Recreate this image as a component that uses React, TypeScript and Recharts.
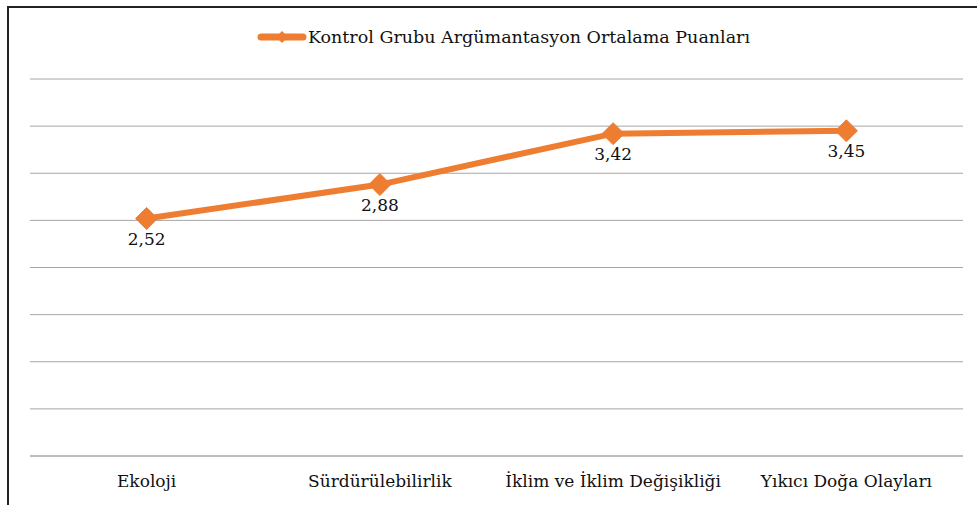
import React from "react";
import { LineChart, Line, CartesianGrid, XAxis, YAxis, Legend, LabelList } from "recharts";

const categories = ["Ekoloji", "Sürdürülebilirlik", "İklim ve İklim Değişikliği", "Yıkıcı Doğa Olayları"];
const scores = [2.52, 2.88, 3.42, 3.45];
const yTicks = [0, 0.5, 1, 1.5, 2, 2.5, 3, 3.5, 4];
const seriesName = "Kontrol Grubu Argümantasyon Ortalama Puanları";

const ORANGE = "#EE7D31";
const FONT = "DejaVu Serif";
const FS = 17;

const data = categories.map((c, i) => ({ name: c, value: scores[i] }));

const Diamond = (props: any) => {
  const { cx, cy, index } = props;
  if (cx == null || cy == null) return null;
  const r = 11;
  return (
    <polygon
      key={`d-${index}`}
      points={`${cx},${cy - r} ${cx + r},${cy} ${cx},${cy + r} ${cx - r},${cy}`}
      fill={ORANGE}
      stroke={ORANGE}
      strokeWidth={1}
    />
  );
};

const LegendContent = () => (
  <div style={{ display: "flex", alignItems: "center", justifyContent: "center", fontFamily: FONT, fontSize: 17.5, color: "#111", lineHeight: "22px", paddingLeft: 30 }}>
    <svg width={50} height={14} style={{ marginRight: 1 }}>
      <line x1={4} y1={7} x2={46} y2={7} stroke={ORANGE} strokeWidth={7} strokeLinecap="round" />
      <polygon points="25,1 31,7 25,13 19,7" fill={ORANGE} />
    </svg>
    <span>{seriesName}</span>
  </div>
);

export default function App() {
  return (
    <div style={{ position: "absolute", left: 0, top: 0, width: 977, height: 505, overflow: "hidden", background: "#fff" }}>
      <div
        style={{
          position: "absolute",
          left: 7,
          top: 6,
          width: 1100,
          height: 700,
          border: "2px solid #222",
          boxSizing: "border-box",
        }}
      />
      <div style={{ position: "absolute", left: 0, top: 0 }}>
        <LineChart width={977} height={505} data={data} margin={{ top: 79, right: 14, left: 30, bottom: 19 }}>
          <CartesianGrid horizontal vertical={false} stroke="#a6a6a6" strokeWidth={1} />
          <YAxis hide domain={[0, 4]} ticks={yTicks} width={0} />
          <XAxis
            dataKey="name"
            scale="band"
            height={30}
            axisLine={{ stroke: "#a6a6a6" }}
            tickLine={false}
            tickMargin={13}
            tick={{ fill: "#111", fontSize: FS, fontFamily: FONT }}
            interval={0}
          />
          <Legend
            verticalAlign="middle"
            align="center"
            layout="horizontal"
            content={<LegendContent />}
            wrapperStyle={{ top: 26, left: 0, width: 977 }}
          />
          <Line
            type="linear"
            dataKey="value"
            name={seriesName}
            stroke={ORANGE}
            strokeWidth={6}
            dot={Diamond}
            activeDot={false}
            isAnimationActive={false}
          >
            <LabelList
              dataKey="value"
              position="bottom"
              offset={14}
              formatter={(v: any) => String(v).replace(".", ",")}
              style={{ fill: "#111", fontSize: FS, fontFamily: FONT }}
            />
          </Line>
        </LineChart>
      </div>
    </div>
  );
}
